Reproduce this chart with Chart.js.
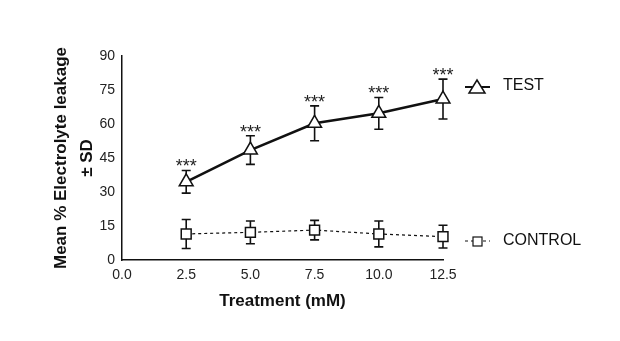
<!DOCTYPE html>
<html>
<head>
<meta charset="utf-8">
<script src="https://cdn.jsdelivr.net/npm/chart.js@4.4.0/dist/chart.umd.min.js"></script>
<style>
  html, body { margin: 0; padding: 0; background: #fff; }
  #wrap { width: 620px; height: 341px; }
</style>
</head>
<body>
<div id="wrap"><canvas id="leakChart" width="620" height="341"></canvas></div>
<script>
// data
var doses = [2.5, 5.0, 7.5, 10.0, 12.5];
var testMean = [34.5, 48.5, 60.3, 64.7, 71.0];
var testSD = [5.0, 6.3, 7.7, 7.0, 8.8];
var controlMean = [11.5, 12.2, 13.2, 11.5, 10.3];
var controlSD = [6.4, 5.0, 4.3, 5.7, 5.0];
var stars = ['***', '***', '***', '***', '***'];
var xTicks = [0, 2.5, 5, 7.5, 10, 12.5];
var yTicks = [0, 15, 30, 45, 60, 75, 90];

function toPoints(xs, ys) {
    return xs.map(function(x, i) { return { x: x, y: ys[i] }; });
}

var errorBars = {
    id: 'errorBars',
    beforeDatasetsDraw: function(chart) {
        var ctx = chart.ctx;
        var xs = chart.scales.x, ys = chart.scales.y;
        var sets = [[testMean, testSD], [controlMean, controlSD]];
        ctx.save();
        ctx.strokeStyle = '#111';
        ctx.lineWidth = 1.6;
        sets.forEach(function(s) {
            doses.forEach(function(d, i) {
                var px = xs.getPixelForValue(d);
                var top = ys.getPixelForValue(s[0][i] + s[1][i]);
                var bot = ys.getPixelForValue(s[0][i] - s[1][i]);
                ctx.beginPath();
                ctx.moveTo(px, top); ctx.lineTo(px, bot);
                ctx.moveTo(px - 4.5, top); ctx.lineTo(px + 4.5, top);
                ctx.moveTo(px - 4.5, bot); ctx.lineTo(px + 4.5, bot);
                ctx.stroke();
            });
        });
        ctx.restore();
    },
    afterDatasetsDraw: function(chart) {
        var ctx = chart.ctx;
        var xs = chart.scales.x, ys = chart.scales.y;
        ctx.save();
        ctx.fillStyle = '#222';
        ctx.font = '18px "Liberation Sans", Arial, sans-serif';
        ctx.textAlign = 'center';
        ctx.textBaseline = 'alphabetic';
        doses.forEach(function(d, i) {
            var px = xs.getPixelForValue(d);
            var top = ys.getPixelForValue(testMean[i] + testSD[i]);
            ctx.fillText(stars[i], px, top + 2);
        });

        // legend
        ctx.font = '16px "Liberation Sans", Arial, sans-serif';
        ctx.textAlign = 'left';
        ctx.textBaseline = 'middle';
        ctx.fillStyle = '#111';
        ctx.strokeStyle = '#111';
        // TEST
        ctx.lineWidth = 2;
        ctx.beginPath(); ctx.moveTo(465, 87); ctx.lineTo(490, 87); ctx.stroke();
        ctx.fillStyle = '#fff';
        ctx.lineWidth = 1.5;
        ctx.beginPath();
        ctx.moveTo(477, 80); ctx.lineTo(485, 93); ctx.lineTo(469, 93); ctx.closePath();
        ctx.fill(); ctx.stroke();
        ctx.fillStyle = '#111';
        ctx.fillText('TEST', 503, 86);
        // CONTROL
        ctx.lineWidth = 1.2;
        ctx.setLineDash([3, 3]);
        ctx.beginPath(); ctx.moveTo(465, 241); ctx.lineTo(490, 241); ctx.stroke();
        ctx.setLineDash([]);
        ctx.fillStyle = '#fff';
        ctx.fillRect(473, 237, 9, 9);
        ctx.strokeRect(473, 237, 9, 9);
        ctx.fillStyle = '#111';
        ctx.fillText('CONTROL', 503, 241);
        ctx.restore();
    }
};

var ctx = document.getElementById('leakChart').getContext('2d');
var leakChart = new Chart(ctx, {
    type: 'line',
    data: {
        datasets: [{
            label: 'TEST',
            data: toPoints(doses, testMean),
            borderColor: '#111',
            borderWidth: 2.6,
            pointStyle: 'triangle',
            pointRadius: 8,
            pointBorderWidth: 1.5,
            pointBackgroundColor: '#fff',
            pointBorderColor: '#111',
            clip: false,
            tension: 0
        }, {
            label: 'CONTROL',
            data: toPoints(doses, controlMean),
            borderColor: '#111',
            borderWidth: 1.2,
            borderDash: [3, 3],
            pointStyle: 'rect',
            pointRadius: 7,
            pointBorderWidth: 1.5,
            pointBackgroundColor: '#fff',
            pointBorderColor: '#111',
            clip: false,
            tension: 0
        }]
    },
    options: {
        responsive: false,
        animation: false,
        layout: { padding: { top: 56, right: 177, bottom: 25, left: 49 } },
        plugins: {
            legend: { display: false },
            tooltip: { enabled: false }
        },
        scales: {
            x: {
                type: 'linear',
                min: 0,
                max: 12.5,
                afterBuildTicks: function(s) { s.ticks = xTicks.map(function(v) { return { value: v }; }); },
                afterFit: function(s) { s.height = 56; },
                grid: { display: false, drawTicks: true, tickLength: 5, tickColor: '#111', tickWidth: 1.5 },
                border: { color: '#111', width: 1.5 },
                ticks: {
                    color: '#222',
                    padding: 2,
                    maxRotation: 0,
                    font: { family: '"Liberation Sans", Arial, sans-serif', size: 14 },
                    callback: function(v) { return Number(v).toFixed(1); }
                },
                title: {
                    display: true,
                    text: 'Treatment (mM)',
                    color: '#111',
                    padding: { top: 4, bottom: 4 },
                    font: { family: '"Liberation Sans", Arial, sans-serif', size: 17, weight: 'bold' }
                }
            },
            y: {
                min: 0,
                max: 90,
                afterBuildTicks: function(s) { s.ticks = yTicks.map(function(v) { return { value: v }; }); },
                afterFit: function(s) { s.width = 73; },
                grid: { display: false, drawTicks: true, tickLength: 5, tickColor: '#111', tickWidth: 1.5 },
                border: { color: '#111', width: 1.5 },
                ticks: {
                    color: '#222',
                    padding: 2,
                    font: { family: '"Liberation Sans", Arial, sans-serif', size: 14 }
                },
                title: {
                    display: true,
                    text: ['Mean % Electrolyte leakage', '± SD'],
                    color: '#111',
                    padding: 0,
                    font: { family: '"Liberation Sans", Arial, sans-serif', size: 17, weight: 'bold', lineHeight: 1.5 }
                }
            }
        }
    },
    plugins: [errorBars]
});
</script>
</body>
</html>
